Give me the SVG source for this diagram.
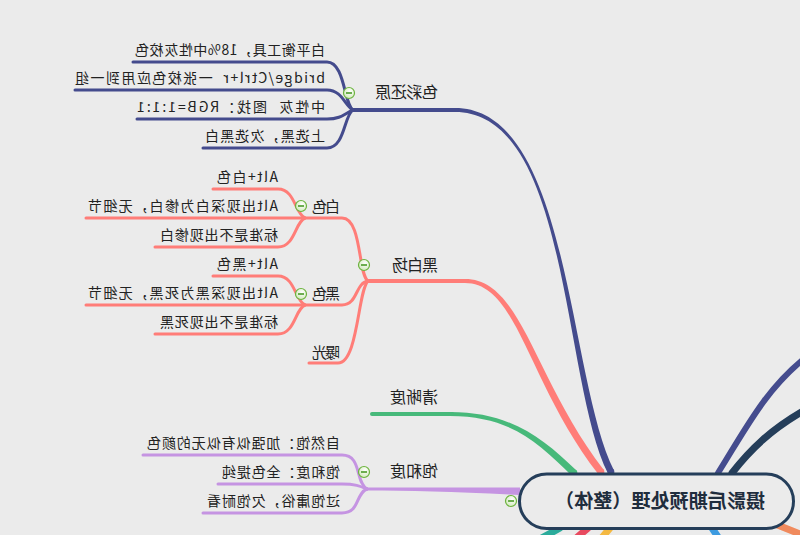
<svg xmlns="http://www.w3.org/2000/svg" width="800" height="535" viewBox="0 0 800 535">
<defs>
<style>
.t{font-family:"Noto Sans CJK SC","Noto Sans",sans-serif;font-size:14px;fill:#222;}
.m{font-size:16px;}
.k{font-size:15px;}
.c{font-family:"Noto Sans CJK SC","Noto Sans",sans-serif;font-size:19px;font-weight:bold;fill:#1f2d3d;}
.l{fill:none;stroke-linecap:round;stroke-linejoin:round;}
.b{stroke:#444b8d;}
.s{stroke:#ff7d78;}
.g{stroke:#47b97a;}
.p{stroke:#c594e2;}
.w3{stroke-width:3;}
.w4{stroke-width:4;}
</style>
<radialGradient id="ig" cx="0.4" cy="0.35" r="0.7"><stop offset="0" stop-color="#ffffff"/><stop offset="1" stop-color="#cfe8b8"/></radialGradient>
<g id="ic"><circle r="5.5" fill="url(#ig)" stroke="#6cb33e" stroke-width="1.2"/><line x1="-3" y1="0" x2="3" y2="0" stroke="#4a9a28" stroke-width="1.6"/></g>
</defs>
<rect width="800" height="535" fill="#ebebeb"/>
<g transform="matrix(-1 0 0 1 800 0)">
<g id="connectors">
 <!-- main branches -->
 <path fill="#444b8d" d="M186,470.4 C232,379 230,108 345,108 L345,112 C230,112 238,381 192,473.6 Z"/>
 <circle cx="189" cy="472" r="3.4" fill="#444b8d"/>
 <path class="l b w4" d="M343,110 H447"/>
 <path fill="#ff7d78" d="M196.2,469.9 C267,378 278,279 335,279 L335,283 C282,283 273,382 201.8,474.1 Z"/>
 <circle cx="199" cy="472" r="3.4" fill="#ff7d78"/>
 <path class="l s w4" d="M333,281 H432"/>
 <path fill="#47b97a" d="M223.5,470.5 C258,437.5 290,412 350,412 L350,416 C290,416 262,442.5 228.5,475.5 Z"/>
 <circle cx="226" cy="473" r="3.4" fill="#47b97a"/>
 <path class="l g w4" d="M348,414 H428"/>
 <path fill="#c594e2" d="M280,487.5 C340,487.5 390,487.5 433,487.5 L433,490.5 C390,490.5 340,492 280,495 Z"/>
 <path class="l" stroke="#454c8e" stroke-width="6" d="M82,473 C55,430 35,390 -5,358"/>
 <path class="l" stroke="#253e5a" stroke-width="7" d="M68,473 C50,450 30,430 -5,410"/>
 <path class="l" stroke="#2bab9b" stroke-width="7" d="M240,528 L262,540"/>
 <path class="l" stroke="#e84a5f" stroke-width="7" d="M212,528 L226,540"/>
 <path class="l" stroke="#f4b942" stroke-width="7" d="M190,528 L200,540"/>
 <path class="l" stroke="#3d9be0" stroke-width="7" d="M88,528 L80,540"/>
 <path class="l" stroke="#f08a5d" stroke-width="7" d="M25,524 L-10,538"/>
 <!-- 色彩还原 children -->
 <path class="l b w3" d="M667,62 H473 C455,62 456,105 447,110"/>
 <path class="l b w3" d="M725,90 H473 C458,90 455,106 447,110"/>
 <path class="l b w3" d="M663,119 H473 C458,119 455,113 447,110"/>
 <path class="l b w3" d="M597,148 H473 C455,148 456,115 447,110"/>
 <!-- 黑白场 children -->
 <path class="l s w3" d="M432,281 C442,275 438,218 458,218 H714"/>
 <path class="l s w3" d="M432,281 C445,283 442,305 458,305 H714"/>
 <path class="l s w3" d="M432,281 C442,290 442,363 462,363 H491"/>
 <path class="l s w3" d="M495,218 C505,214 505,189 522,189 H587"/>
 <path class="l s w3" d="M495,218 C505,222 505,247 522,247 H645"/>
 <path class="l s w3" d="M495,305 C505,301 505,276 522,276 H587"/>
 <path class="l s w3" d="M495,305 C505,309 505,334 522,334 H645"/>
 <!-- 饱和度 children -->
 <path class="l p w3" d="M433,489 C445,482 438,455 458,455 H657"/>
 <path class="l p w3" d="M433,489 C440,486 445,484 458,484 H582"/>
 <path class="l p w3" d="M433,489 C445,494 440,513 458,513 H597"/>
</g>
<g id="root">
 <rect x="6.5" y="474" width="274" height="54.5" rx="27.2" fill="#ebebeb" stroke="#253e5a" stroke-width="3"/>
 <text class="c" x="140" y="508" text-anchor="middle" textLength="210" lengthAdjust="spacing">摄影后期预处理（整体）</text>
 <use href="#ic" x="289" y="501"/>
</g>
<g id="n-secai">
 <text class="t m" x="362" y="97.5" textLength="63" lengthAdjust="spacing">色彩还原</text>
 <use href="#ic" x="451" y="93"/>
</g>
<g id="n-secai-1"><text class="t" x="475" y="54.5" textLength="190" lengthAdjust="spacing">白平衡工具，18%中性灰校色</text></g>
<g id="n-secai-2"><text class="t" x="475" y="82.5" textLength="250" lengthAdjust="spacing" xml:space="preserve">bridge/Ctrl+r  一张校色应用到一组</text></g>
<g id="n-secai-3"><text class="t" x="475" y="111.5" textLength="188" lengthAdjust="spacing" xml:space="preserve">中性灰  图找：RGB=1:1:1</text></g>
<g id="n-secai-4"><text class="t" x="475" y="140.5" textLength="120" lengthAdjust="spacing">上选黑，次选黑白</text></g>
<g id="n-heibai">
 <text class="t m" x="362" y="270.5" textLength="46" lengthAdjust="spacing">黑白场</text>
 <use href="#ic" x="436" y="265"/>
</g>
<g id="n-baise">
 <text class="t k" x="460" y="211.5" textLength="28" lengthAdjust="spacing">白色</text>
 <use href="#ic" x="499" y="206"/>
</g>
<g id="n-baise-1"><text class="t" x="522" y="182" textLength="61" lengthAdjust="spacing">Alt+白色</text></g>
<g id="n-baise-2"><text class="t" x="522" y="211" textLength="190" lengthAdjust="spacing">Alt出现深白为惨白，无细节</text></g>
<g id="n-baise-3"><text class="t" x="522" y="240" textLength="118" lengthAdjust="spacing">标准是不出现惨白</text></g>
<g id="n-heise">
 <text class="t k" x="460" y="299" textLength="28" lengthAdjust="spacing">黑色</text>
 <use href="#ic" x="499" y="294"/>
</g>
<g id="n-heise-1"><text class="t" x="522" y="269" textLength="61" lengthAdjust="spacing">Alt+黑色</text></g>
<g id="n-heise-2"><text class="t" x="522" y="298" textLength="190" lengthAdjust="spacing">Alt出现深黑为死黑，无细节</text></g>
<g id="n-heise-3"><text class="t" x="522" y="327" textLength="118" lengthAdjust="spacing">标准是不出现死黑</text></g>
<g id="n-baoguang"><text class="t k" x="460" y="357.5" textLength="28" lengthAdjust="spacing">曝光</text></g>
<g id="n-qingxi"><text class="t m" x="362" y="402.5" textLength="48" lengthAdjust="spacing">清晰度</text></g>
<g id="n-baohe">
 <text class="t m" x="362" y="477" textLength="48" lengthAdjust="spacing">饱和度</text>
 <use href="#ic" x="436" y="472"/>
</g>
<g id="n-baohe-1"><text class="t" x="460" y="447.5" textLength="193" lengthAdjust="spacing">自然饱：加强似有似无的颜色</text></g>
<g id="n-baohe-2"><text class="t" x="460" y="476.5" textLength="118" lengthAdjust="spacing">饱和度：全色提纯</text></g>
<g id="n-baohe-3"><text class="t" x="460" y="505.5" textLength="133" lengthAdjust="spacing">过饱庸俗，欠饱耐看</text></g>
</g>
</svg>
